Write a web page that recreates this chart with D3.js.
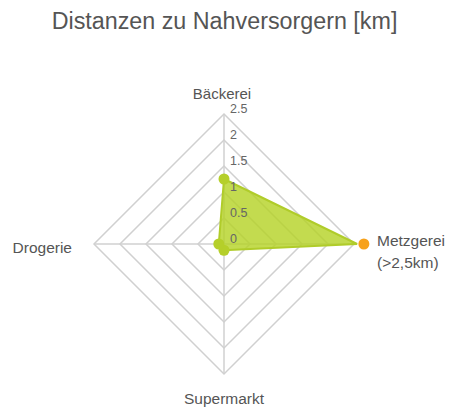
<!DOCTYPE html>
<html><head><meta charset="utf-8">
<script src="https://cdn.jsdelivr.net/npm/d3@7"></script>
<style>body{margin:0;background:#fff}svg{display:block}text{font-family:"Liberation Sans",Arial,sans-serif}</style>
</head><body>
<script>
const categories = ["Bäckerei", "Metzgerei", "Supermarkt", "Drogerie"];
const values = [1.25, 2.56, 0.12, 0.1];
const overflow = [false, true, false, false];
const ticks = [0, 0.5, 1, 1.5, 2, 2.5];
const title = "Distanzen zu Nahversorgern [km]";

const W = 449, H = 408, cx = 224, cy = 244, R = 130;
const svg = d3.select("body").append("svg").attr("width", W).attr("height", H);
const r = d3.scaleLinear().domain([0, 2.5]).range([0, R]);
const ang = d3.scaleBand().domain(categories).range([0, 2 * Math.PI]).paddingInner(0).paddingOuter(0);
const a = c => ang(c);
const pt = (c, v) => [cx + r(v) * Math.sin(a(c)), cy - r(v) * Math.cos(a(c))];

svg.append("text").attr("x", W / 2).attr("y", 29).attr("text-anchor", "middle")
  .attr("font-size", 23.3).attr("fill", "#555").text(title);

const g = svg.append("g");
ticks.slice(1).forEach(t => {
  g.append("polygon").attr("points", categories.map(c => pt(c, t).join(",")).join(" "))
    .attr("fill", "none").attr("stroke", "#d0d0d0").attr("stroke-width", 1.5);
});
categories.forEach(c => {
  const p = pt(c, 2.5);
  g.append("line").attr("x1", cx).attr("y1", cy).attr("x2", p[0]).attr("y2", p[1])
    .attr("stroke", "#d0d0d0").attr("stroke-width", 1.5);
});

const dataPts = categories.map((c, i) => pt(c, values[i]));
svg.append("polygon").attr("points", dataPts.map(p => p.join(",")).join(" "))
  .attr("fill", "rgba(180,210,35,0.8)").attr("stroke", "#b0cc2a").attr("stroke-width", 2);

ticks.forEach(t => {
  svg.append("text").attr("x", cx + 6).attr("y", cy - r(t) - 1).attr("font-size", 12.5)
    .attr("fill", "#666").text(d3.format("")(t));
});

categories.forEach((c, i) => {
  const p = dataPts[i];
  let q = p;
  if (overflow[i]) q = pt(c, 2.69);
  svg.append("circle").attr("cx", q[0]).attr("cy", q[1]).attr("r", 5.5)
    .attr("fill", overflow[i] ? "#f7a11a" : "#b5cf2a");
});

const lab = svg.append("g").attr("font-size", 15).attr("fill", "#555");
lab.append("text").attr("x", cx - 2).attr("y", 99).attr("text-anchor", "middle").text(categories[0]);
const m = lab.append("text").attr("x", 377).attr("y", 246).attr("font-size", 15.5);
m.append("tspan").text(categories[1]);
m.append("tspan").attr("x", 377).attr("dy", 22).text("(>2,5km)");
lab.append("text").attr("x", cx).attr("y", 404).attr("font-size", 15.5).attr("text-anchor", "middle").text(categories[2]);
lab.append("text").attr("x", 72).attr("y", 253).attr("font-size", 15.5).attr("text-anchor", "end").text(categories[3]);
</script>
</body></html>
